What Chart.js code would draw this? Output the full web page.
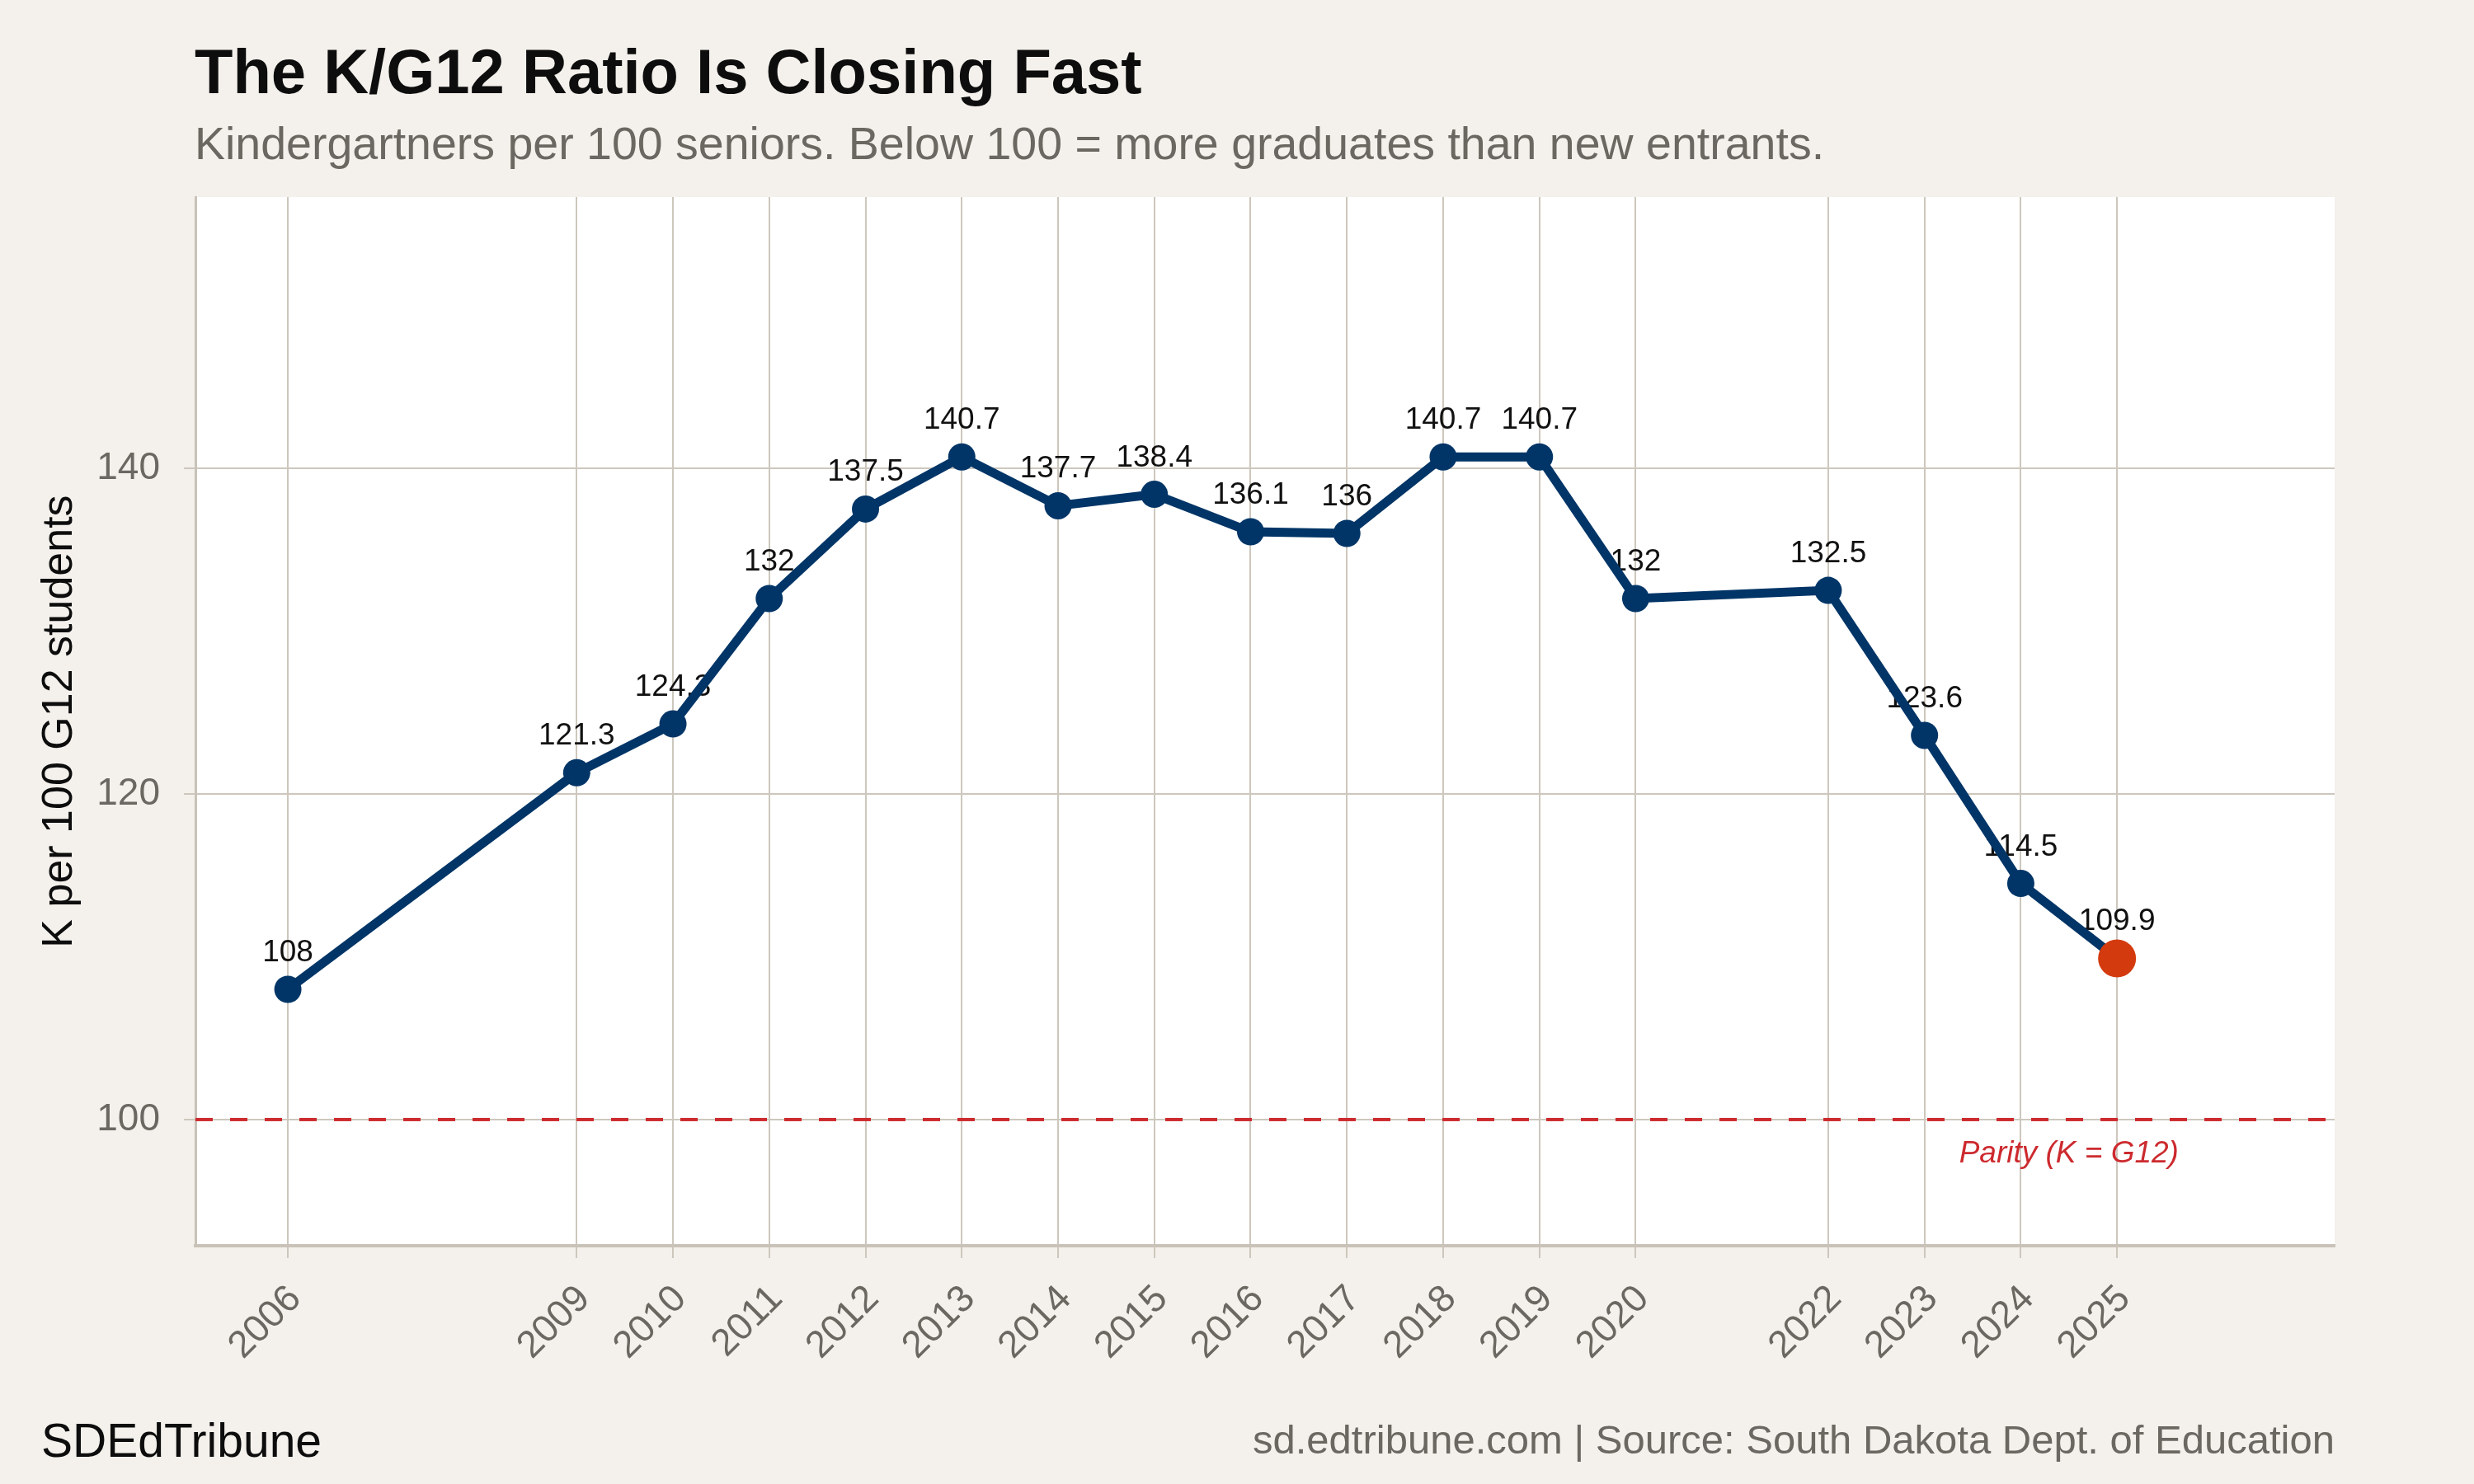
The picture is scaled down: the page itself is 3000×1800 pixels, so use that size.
<!DOCTYPE html>
<html>
<head>
<meta charset="utf-8">
<title>The K/G12 Ratio Is Closing Fast</title>
<script src="https://cdn.jsdelivr.net/npm/chart.js@4.4.1/dist/chart.umd.min.js"></script>
<style>
  html, body { margin: 0; padding: 0; background: #f4f1ec; }
  canvas { display: block; }
</style>
</head>
<body>
<canvas id="ratio-chart" width="3000" height="1800"></canvas>
<script>
// --- DATA ---
const years  = [2006, 2009, 2010, 2011, 2012, 2013, 2014, 2015, 2016, 2017, 2018, 2019, 2020, 2022, 2023, 2024, 2025];
const ratios = [108, 121.3, 124.3, 132, 137.5, 140.7, 137.7, 138.4, 136.1, 136, 140.7, 140.7, 132, 132.5, 123.6, 114.5, 109.9];
const yTicks = [100, 120, 140];
const parityValue = 100;
const parityLabel = 'Parity (K = G12)';

const titleText    = 'The K/G12 Ratio Is Closing Fast';
const subtitleText = 'Kindergartners per 100 seniors. Below 100 = more graduates than new entrants.';
const yAxisTitle   = 'K per 100 G12 students';
const brandText    = 'SDEdTribune';
const sourceText   = 'sd.edtribune.com | Source: South Dakota Dept. of Education';

// --- STYLE ---
const FONT   = "'Liberation Sans', Arial, Helvetica, sans-serif";
const BG     = '#f4f1ec';
const GRID   = '#cdc7bd';
const AXIS   = '#c8c2b8';
const NAVY   = '#023567';
const ORANGE = '#d33b0f';
const RED    = '#cc2a2e';
const GREY   = '#6b6761';

Chart.defaults.font.family = FONT;

// panel: beige page, white plotting area
const panelBackground = {
    id: 'panelBackground',
    beforeDraw(chart) {
        const { ctx, chartArea: a } = chart;
        ctx.save();
        ctx.fillStyle = BG;
        ctx.fillRect(0, 0, chart.width, chart.height);
        ctx.fillStyle = '#ffffff';
        ctx.fillRect(a.left, a.top, a.right - a.left, a.bottom - a.top);
        ctx.restore();
    }
};

// dashed parity reference + its label
const parityLine = {
    id: 'parityLine',
    beforeDatasetsDraw(chart) {
        const { ctx, chartArea: a, scales } = chart;
        const y = scales.y.getPixelForValue(parityValue);
        ctx.save();
        ctx.strokeStyle = RED;
        ctx.lineWidth = 4;
        ctx.setLineDash([21, 21]);
        ctx.beginPath();
        ctx.moveTo(a.left, y);
        ctx.lineTo(a.right, y);
        ctx.stroke();
        ctx.setLineDash([]);
        ctx.fillStyle = RED;
        ctx.font = `italic 37px ${FONT}`;
        ctx.textAlign = 'center';
        ctx.textBaseline = 'alphabetic';
        ctx.fillText(parityLabel, scales.x.getPixelForValue(2024.5), scales.y.getPixelForValue(97.35));
        ctx.restore();
    }
};

// value labels sit under the line, like the original
const pointLabels = {
    id: 'pointLabels',
    beforeDatasetsDraw(chart) {
        const { ctx } = chart;
        const meta = chart.getDatasetMeta(0);
        ctx.save();
        ctx.fillStyle = '#111111';
        ctx.font = `37px ${FONT}`;
        ctx.textAlign = 'center';
        ctx.textBaseline = 'alphabetic';
        meta.data.forEach((pt, i) => {
            ctx.fillText(String(ratios[i]), pt.x, pt.y - 34);
        });
        ctx.restore();
    }
};

// title, subtitle and footer lines
const headerFooter = {
    id: 'headerFooter',
    afterDraw(chart) {
        const { ctx, chartArea: a } = chart;
        ctx.save();
        ctx.textBaseline = 'alphabetic';
        ctx.textAlign = 'left';
        ctx.fillStyle = '#0d0d0d';
        ctx.font = `bold 76px ${FONT}`;
        ctx.fillText(titleText, a.left - 1, 113);
        ctx.fillStyle = GREY;
        ctx.font = `55.5px ${FONT}`;
        ctx.fillText(subtitleText, a.left - 1, 193);
        ctx.fillStyle = '#0d0d0d';
        ctx.font = `57px ${FONT}`;
        ctx.fillText(brandText, 50, 1767);
        ctx.fillStyle = GREY;
        ctx.font = `49px ${FONT}`;
        ctx.textAlign = 'right';
        ctx.fillText(sourceText, a.right, 1763);
        ctx.restore();
    }
};

const lastIndex = ratios.length - 1;

new Chart(document.getElementById('ratio-chart'), {
    type: 'line',
    data: {
        datasets: [{
            data: years.map((yr, i) => ({ x: yr, y: ratios[i] })),
            borderColor: NAVY,
            borderWidth: 11,
            tension: 0,
            fill: false,
            pointRadius: c => c.dataIndex === lastIndex ? 23 : 16.5,
            pointHoverRadius: c => c.dataIndex === lastIndex ? 23 : 16.5,
            pointBackgroundColor: c => c.dataIndex === lastIndex ? ORANGE : NAVY,
            pointBorderWidth: 0,
            clip: false
        }]
    },
    options: {
        responsive: false,
        animation: false,
        devicePixelRatio: 1,
        layout: { padding: { top: 239, left: 0, right: 169, bottom: 89 } },
        plugins: { legend: { display: false }, tooltip: { enabled: false } },
        scales: {
            x: {
                type: 'linear',
                min: 2005.04,
                max: 2027.26,
                afterBuildTicks: s => { s.ticks = years.map(v => ({ value: v })); },
                afterFit: s => { s.height = 200; },
                grid: { color: GRID, lineWidth: 2, tickLength: 15, tickColor: GRID },
                border: { display: true, color: AXIS, width: 4 },
                ticks: {
                    autoSkip: false,
                    minRotation: 45,
                    maxRotation: 45,
                    padding: 26,
                    labelOffset: 9,
                    color: GREY,
                    font: { size: 46, lineHeight: 1 },
                    callback: v => String(v)
                }
            },
            y: {
                min: 92.25,
                max: 156.66,
                afterBuildTicks: s => { s.ticks = yTicks.map(v => ({ value: v })); },
                afterFit: s => { s.width = 237; },
                grid: { color: GRID, lineWidth: 2, tickLength: 14, tickColor: GRID },
                border: { display: true, color: AXIS, width: 3 },
                ticks: {
                    padding: 29,
                    color: GREY,
                    font: { size: 46 },
                    callback: v => String(v)
                },
                title: {
                    display: true,
                    text: yAxisTitle,
                    color: '#0d0d0d',
                    font: { size: 52 },
                    padding: { top: 41, bottom: 0 }
                }
            }
        }
    },
    plugins: [panelBackground, parityLine, pointLabels, headerFooter]
});
</script>
</body>
</html>
